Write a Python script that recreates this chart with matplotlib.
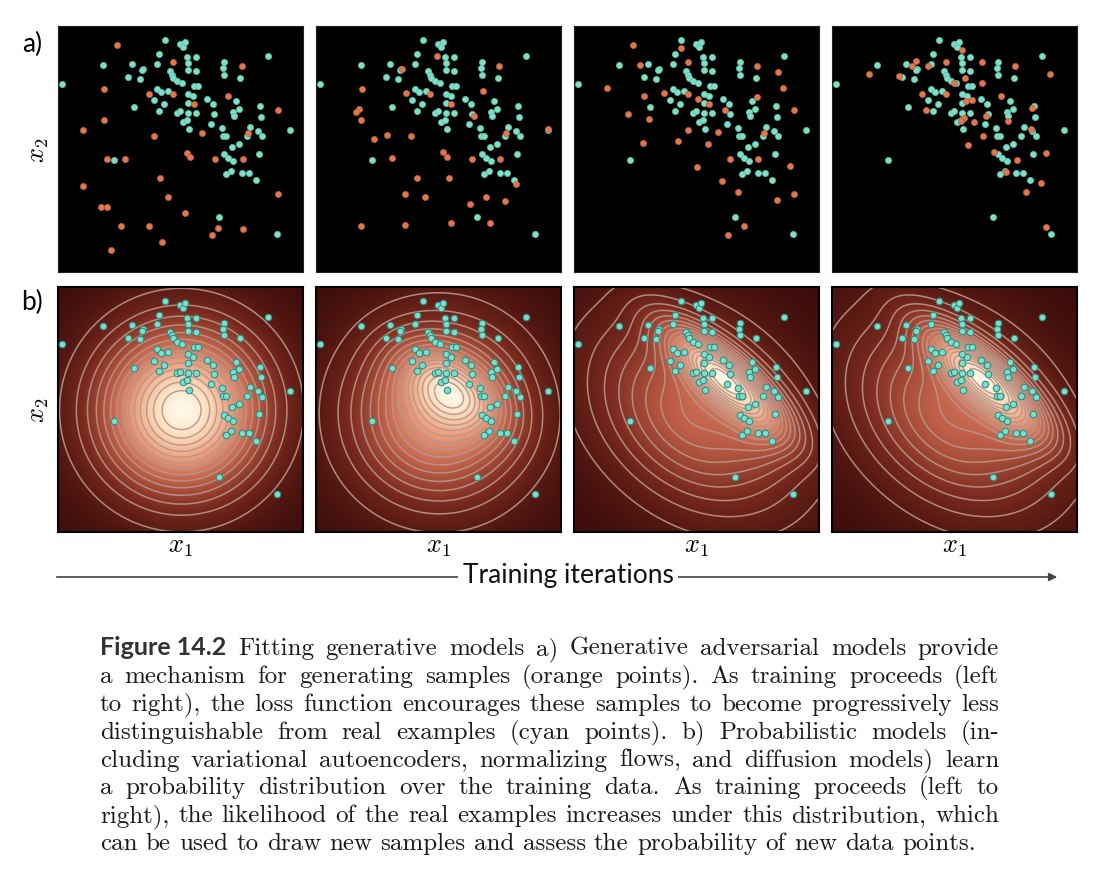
import numpy as np
import matplotlib
matplotlib.use("Agg")
import matplotlib.pyplot as plt
from matplotlib.colors import LinearSegmentedColormap
from matplotlib.patches import FancyArrowPatch

plt.rcParams['mathtext.fontset'] = 'cm'

# real data (cyan points), panel units 0-100
real_x = [44.0, 50.0, 51.1, 52.0, 85.1, 41.6, 52.9, 56.4, 19.3, 30.9, 40.8, 53.3, 67.7, 67.3, 67.6, 35.3,
          34.9, 46.0, 46.7, 47.1, 53.3, 56.3, 29.1, 33.9, 74.0, 48.7, 50.7, 2.9, 55.7, 57.1, 40.7, 42.4,
          45.1, 53.1, 55.3, 39.6, 43.7, 53.3, 60.7, 63.3, 72.3, 31.7, 41.7, 73.7, 71.3, 71.7, 82.0, 82.3,
          48.7, 50.0, 53.3, 56.5, 63.5, 51.3, 52.7, 62.3, 66.9, 78.0, 53.7, 94.0, 81.3, 82.9, 67.1, 68.4,
          76.7, 73.7, 70.9, 81.6, 67.6, 69.3, 71.3, 23.6, 70.3, 68.4, 74.7, 77.7, 80.5, 65.7, 88.9]
real_y = [93.3, 91.7, 90.7, 92.7, 87.1, 87.7, 86.7, 86.7, 83.3, 83.7, 84.0, 84.3, 84.7, 82.3, 79.6, 82.0,
          81.3, 80.9, 79.6, 78.4, 81.3, 80.9, 78.7, 78.0, 78.4, 77.1, 76.3, 76.0, 75.1, 74.9, 74.0, 72.7,
          73.1, 72.0, 70.9, 69.3, 67.7, 68.4, 69.7, 67.7, 69.1, 66.7, 65.1, 66.0, 64.7, 62.9, 67.1, 62.7,
          64.3, 64.9, 64.3, 64.3, 64.0, 60.7, 61.6, 60.0, 58.3, 58.7, 57.7, 57.3, 57.1, 54.9, 55.1, 55.1,
          55.1, 52.0, 50.7, 48.0, 47.7, 46.3, 45.1, 45.3, 41.1, 39.7, 40.4, 40.4, 37.3, 22.7, 16.0]

# generated samples (orange points) at four training stages
gan1_x = [24.9, 47.3, 74.7, 19.7, 37.6, 47.3, 69.3, 55.7, 89.3, 19.6, 11.3, 39.6, 58.9, 77.3, 52.7, 54.0, 20.9,
          28.0, 64.0, 75.3, 42.1, 11.3, 89.3, 45.3, 18.3, 20.9, 52.0, 26.3, 37.5, 65.2, 62.9, 75.3, 42.8, 22.3]
gan1_y = [91.3, 84.7, 83.1, 73.9, 72.0, 72.0, 71.1, 67.7, 65.3, 61.6, 57.6, 55.2, 56.4, 56.4, 48.4, 46.7, 45.9,
          45.9, 45.7, 45.7, 38.4, 35.2, 32.0, 30.7, 26.5, 26.5, 24.3, 19.2, 19.2, 18.1, 15.5, 18.0, 12.7, 9.6]
gan2_x = [49.6, 35.7, 74.3, 19.5, 37.1, 46.9, 68.0, 55.3, 18.4, 17.1, 19.2, 64.5, 94.1, 77.1, 29.7, 24.4, 39.2,
          52.0, 53.7, 31.6, 63.5, 74.9, 41.7, 54.4, 81.1, 36.9, 44.8, 69.3, 76.9, 62.7, 19.1, 36.9, 55.2, 70.7]
gan2_y = [86.9, 81.7, 83.1, 73.9, 72.3, 72.0, 73.1, 67.7, 66.0, 64.5, 61.6, 63.1, 58.0, 56.4, 55.6, 54.0, 55.2,
          48.5, 46.8, 46.3, 45.7, 45.7, 38.4, 38.4, 36.0, 32.0, 30.7, 30.8, 29.1, 28.0, 19.1, 19.3, 20.3, 20.1]
gan3_x = [24.7, 44.0, 46.9, 27.5, 74.3, 82.7, 14.4, 84.7, 29.3, 37.3, 46.9, 50.7, 74.4, 55.3, 61.6, 89.1, 22.8,
          31.2, 46.7, 58.7, 77.1, 28.9, 42.8, 54.7, 63.6, 74.9, 87.7, 50.4, 60.3, 66.7, 89.1, 82.3, 69.1, 62.7]
gan3_y = [91.5, 90.4, 84.7, 83.6, 83.1, 80.7, 74.3, 74.3, 71.2, 72.3, 72.0, 70.0, 70.7, 67.7, 65.6, 65.3, 63.7,
          61.9, 57.3, 56.5, 56.4, 52.4, 53.2, 52.0, 45.7, 45.7, 42.9, 42.5, 37.2, 32.7, 32.0, 29.5, 19.2, 15.5]
gan4_x = [34.7, 33.3, 39.7, 53.1, 46.9, 61.1, 74.3, 88.4, 16.0, 28.1, 54.3, 50.0, 61.3, 37.3, 46.9, 68.9, 57.1,
          54.7, 38.9, 81.3, 62.7, 54.1, 52.7, 58.1, 71.5, 80.7, 61.6, 55.7, 65.9, 86.7, 75.1, 70.9, 84.9, 78.7, 86.8]
gan4_y = [84.9, 83.1, 83.1, 89.3, 84.7, 84.7, 83.1, 79.9, 79.7, 78.9, 78.4, 76.4, 76.4, 72.0, 72.0, 71.1, 69.6,
          69.1, 65.5, 66.3, 63.1, 62.3, 60.9, 60.5, 61.2, 58.0, 54.9, 51.5, 48.7, 48.1, 45.6, 40.8, 36.3, 32.5, 18.7]

# learned densities: gaussian components (weight, mean x, mean y, sd along, sd across, angle deg)
dens1 = [(1.0, 50.7, 49.6, 21.0, 21.0, 0)]
dens2 = [(1.0, 50.5, 48.5, 22.0, 22.0, 0), (0.18, 55.0, 58.0, 15.0, 9.0, -35)]
dens3 = [(1.0, 50.0, 48.0, 29.0, 21.0, -40), (0.38, 62.0, 62.0, 20.0, 6.5, -41),
         (0.03, 76.0, 39.0, 10.0, 8.0, -40)]
dens4 = [(1.0, 50.0, 48.0, 29.0, 21.0, -40), (0.38, 62.0, 62.0, 20.0, 6.5, -41),
         (0.03, 76.0, 39.0, 10.0, 8.0, -40)]
n_levels = [14, 16, 19, 19]

caption = [
    "Figure 14.2|Fitting generative models a) Generative adversarial models provide",
    "a mechanism for generating samples (orange points).  As training proceeds (left",
    "to right), the loss function encourages these samples to become progressively less",
    "distinguishable from real examples (cyan points).  b) Probabilistic models (in-",
    "cluding variational autoencoders, normalizing flows, and diffusion models) learn",
    "a probability distribution over the training data.  As training proceeds (left to",
    "right), the likelihood of the real examples increases under this distribution, which",
    "can be used to draw new samples and assess the probability of new data points.",
]

W, H = 1110, 878
CYAN = '#7fdec8'
ORANGE = '#e0784f'
dens_cmap = LinearSegmentedColormap.from_list(
    'dens', [(0, '#3c0c0a'), (0.25, '#7a2a1e'), (0.5, '#c2624a'), (0.75, '#eea686'),
             (0.9, '#fbd8b8'), (1, '#fff8e6')])


def density(comps, X, Y):
    f = np.zeros_like(X)
    for w, mx, my, sa, sb, ang in comps:
        t = np.deg2rad(ang)
        dx, dy = X - mx, Y - my
        u = dx * np.cos(t) + dy * np.sin(t)
        v = -dx * np.sin(t) + dy * np.cos(t)
        f += w / (sa * sb) * np.exp(-0.5 * ((u / sa) ** 2 + (v / sb) ** 2))
    return f


def px_axes(left, top, w, h):
    return fig.add_axes([left / W, 1 - (top + h) / H, w / W, h / H])


fig = plt.figure(figsize=(W / 100, H / 100), dpi=100)

lefts = [57.5, 315.7, 573.5, 831.5]
xlim = (1.0, 99.3)
ylim = (0.7, 99.0)

gx = np.linspace(xlim[0], xlim[1], 300)
gy = np.linspace(ylim[0], ylim[1], 300)
GX, GY = np.meshgrid(gx, gy)

gans = [(gan1_x, gan1_y), (gan2_x, gan2_y), (gan3_x, gan3_y), (gan4_x, gan4_y)]
denses = [dens1, dens2, dens3, dens4]

for i in range(4):
    # a) GAN panels
    ax = px_axes(lefts[i], 27, 245.5, 246)
    ax.set_facecolor('black')
    ax.scatter(real_x, real_y, s=20, c=CYAN, edgecolors='#5cbfa9', linewidths=0.5, zorder=2)
    ax.scatter(gans[i][0], gans[i][1], s=20, c=ORANGE, edgecolors='#b95c3c', linewidths=0.5, zorder=3)
    ax.set_xlim(xlim)
    ax.set_ylim(ylim)
    ax.set_xticks([])
    ax.set_yticks([])
    for sp in ax.spines.values():
        sp.set_color('#222222')

    # b) probabilistic model panels
    ax = px_axes(lefts[i], 288, 245.5, 245)
    f = density(denses[i], GX, GY)
    fmax = f.max()
    ax.imshow((f / fmax) ** 0.75, extent=(xlim[0], xlim[1], ylim[0], ylim[1]), origin='lower',
              cmap=dens_cmap, vmin=0, vmax=1, interpolation='bilinear', aspect='auto', zorder=0)
    lev = fmax * np.linspace(0, 1, n_levels[i] + 2)[1:-1]
    ax.contour(GX, GY, f, levels=lev, colors='#b9968a', linewidths=1.1, alpha=0.9, zorder=1)
    ax.scatter(real_x, real_y, s=22, c=CYAN, edgecolors='#2f8f86', linewidths=0.8, zorder=3)
    ax.set_xlim(xlim)
    ax.set_ylim(ylim)
    ax.set_xticks([])
    ax.set_yticks([])
    for sp in ax.spines.values():
        sp.set_linewidth(1.5)
        sp.set_color('black')
    fig.text((lefts[i] + 122.75) / W, 1 - 546 / H, r'$x_1$', fontsize=19, ha='center', va='center')

# row labels
fig.text(32 / W, 1 - 44 / H, 'a)', fontsize=19, family='Lato', ha='center', va='center')
fig.text(32 / W, 1 - 302 / H, 'b)', fontsize=19, family='Lato', ha='center', va='center')
fig.text(38 / W, 1 - 150 / H, r'$x_2$', fontsize=19, rotation=90, ha='center', va='center')
fig.text(38 / W, 1 - 410 / H, r'$x_2$', fontsize=19, rotation=90, ha='center', va='center')

# training arrow
arrow = FancyArrowPatch((54 / W, 1 - 578 / H), (1060 / W, 1 - 578 / H), transform=fig.transFigure,
                        arrowstyle='-|>', mutation_scale=12, color='#444444', lw=1.2)
fig.add_artist(arrow)
fig.text(568 / W, 1 - 576 / H, 'Training iterations', fontsize=19, family='Lato', color='#111111',
         ha='center', va='center', bbox=dict(fc='white', ec='none', pad=3))

# caption, justified by hand
fig.canvas.draw()
rend = fig.canvas.get_renderer()
fsize = 18
serif = dict(fontsize=fsize, family=['cmr10', 'DejaVu Serif'], color='#1a1a1a')
bold = dict(fontsize=fsize, family='Lato', weight='bold', color='#333333')
x0, x1 = 100, 999
for li, line in enumerate(caption):
    if '|' in line:
        head, rest = line.split('|')
        words = [head] + rest.replace('  ', ' ').split(' ')
        styles = [bold] + [serif] * (len(words) - 1)
    else:
        words = line.replace('  ', ' ').split(' ')
        styles = [serif] * len(words)
    texts = []
    widths = []
    for wd, st in zip(words, styles):
        t = fig.text(0, 0, wd, va='baseline', ha='left', **st)
        texts.append(t)
        widths.append(t.get_window_extent(rend).width)
    if li < len(caption) - 1:
        gap = (x1 - x0 - sum(widths)) / (len(words) - 1)
    else:
        gap = fsize * 100 / 72 * 0.333
    xpos = x0
    ybase = 655 + li * 27.9
    for t, wd in zip(texts, widths):
        t.set_position((xpos / W, 1 - ybase / H))
        xpos += wd + gap

fig.savefig('out.png', dpi=100, facecolor='white')
